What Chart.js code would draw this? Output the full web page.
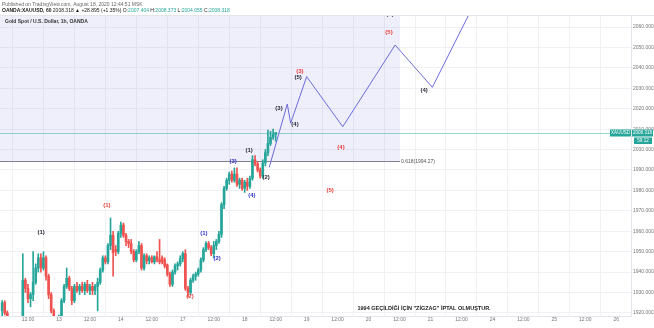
<!DOCTYPE html>
<html>
<head>
<meta charset="utf-8">
<script src="https://cdn.jsdelivr.net/npm/chart.js@4.4.1/dist/chart.umd.min.js"></script>
<style>
  html, body { margin: 0; padding: 0; background: #fff; }
  #wrap { width: 654px; height: 328px; }
</style>
</head>
<body>
<div id="wrap"><canvas id="chart" width="654" height="328"></canvas></div>
<script>
// ── candles: hour index counted from Aug 12 00:00 (weekend skipped) ──
const hours  = [2,3,4,5,6,7,8,9,10,11,12,13,14,15,16,17,18,19,20,21,22,23,24,25,26,27,28,29,30,31,32,33,34,35,36,37,38,39,40,41,42,43,44,45,46,47,48,49,50,51,52,53,54,55,56,57,58,59,60,61,62,63,64,65,66,67,68,69,70,71,72,73,74,75,76,77,78,79,80,81,82,83,84,85,86,87,88,89,90,91,92,93,94,95,96,97,98,99,100,101,102,103,104,105,106,107,108];
const opens  = [1921,1925,1920,1916,1913,1915,1911,1916,1917,1936,1932,1927,1929,1935,1942,1947,1942,1947,1938,1929,1921,1916,1915,1917,1926,1933,1937,1932,1926,1933,1931,1933,1931,1934,1931,1933,1931,1933,1935,1941,1947,1945,1953,1958,1951,1950,1959,1963,1958,1955,1954,1950,1946,1950,1953,1942,1948,1945.5,1947,1945,1947.5,1946,1947,1946,1943.5,1939,1934,1940,1943,1944,1946.5,1949,1932,1930,1936,1938,1939,1941,1946,1951,1954,1952,1949,1953,1955,1958.5,1973,1981,1985,1988,1985,1988,1983,1985,1981,1984,1982,1986,1995,1993,1990,1987,1993.5,1998.5,2003,2006,2007.404];
const highs  = [1926,1926,1921,1917,1916,1916,1917,1918,1949,1937,1934,1930,1950,1944,1949,1949,1950,1948,1939,1930,1922,1918,1919,1927,1934,1942,1938,1933,1934,1935,1934,1935,1935,1936,1934,1935,1934,1937,1942,1948,1948,1954,1966.5,1960,1953,1960,1964.5,1964,1959,1956,1956,1951,1951,1955,1954,1949,1949,1948,1948,1948,1950,1956,1948,1947,1944,1940,1941,1944,1945,1948,1950,1951,1933,1937,1939,1940,1942,1947,1952,1955,1955,1953,1955,1956,1960,1974,1982,1986,1989,1989.5,1991,1991,1986,1986,1985,1986,1987,1997,1997,1994,1991,1995,2000,2009.5,2009,2010,2008.373];
const lows   = [1918,1919,1914,1911,1910,1909,1910,1913,1915,1930,1925,1923,1926,1934,1940,1940,1941,1936,1927,1920,1914,1912,1913,1916,1925,1932,1931,1924,1925,1930,1929,1930,1929,1930,1929,1929,1929,1921,1934,1940,1944,1944,1951,1938,1948,1949,1957,1957,1953,1952,1949,1945,1945,1949,1941,1941,1944,1944,1944.5,1944,1945,1944,1944,1942,1938,1933,1933,1939,1941,1943,1945,1931,1928,1929,1935,1936,1938,1940,1945,1950,1951,1948,1947,1951,1954,1957,1971,1980,1983,1984,1984,1982,1981,1980,1979,1980,1981,1985,1992,1989,1986,1986,1992,1997,2002,2005,2004.055];
const closes = [1925,1920,1916,1913,1915,1911,1916,1917,1936,1932,1927,1929,1935,1942,1947,1942,1947,1938,1929,1921,1916,1915,1917,1926,1933,1937,1932,1926,1933,1931,1933,1931,1934,1931,1933,1931,1933,1935,1941,1947,1945,1953,1958,1949.5,1950,1959,1963,1958,1955,1954,1950,1946,1950,1953,1942,1948,1945.5,1947,1945,1947.5,1946,1945,1945,1943,1939,1934,1940,1943,1944,1946.5,1949,1932,1930,1936,1938,1939,1941,1946,1951,1954,1952,1949,1953,1955,1958.5,1973,1981,1985,1988,1985,1988,1983,1985,1981,1984,1982,1986,1995,1993,1990,1987,1993.5,1998.5,2003,2006,2007.4,2008.318];

// ── projected wave path ──
const waveHours  = [105.5, 112.5, 113.8, 120.0, 134.0, 154.3, 168.7, 186.0];
const wavePrices = [1991.3, 2022.3, 2012.9, 2035.7, 2011.2, 2051.2, 2030.5, 2074.0];

// ── wave count labels ──
const labelText   = ['(1)','(1)','(2)','(1)','(2)','(3)','(4)','(1)','(2)','(3)','(4)','(5)','(3)','(4)','(5)','(5)','(4)','(5)'];
const labelHours  = [17.1, 42.6, 74.8, 80.2, 85.3, 91.5, 98.8, 97.7, 104.3, 109.3, 115.5, 116.7, 117.4, 133.3, 129.1, 151.9, 165.5, 152.3];
const labelPrices = [1959.7, 1972.9, 1927.9, 1959.2, 1946.9, 1994.4, 1977.8, 1999.8, 1986.6, 2020.4, 2012.5, 2035.5, 2038.5, 2001.3, 1980.2, 2057.6, 2029.2, 2066.4];
const labelKind   = ['k','r','r','b','b','b','b','k','k','k','k','k','r','r','r','r','k','k'];

// ── axes ──
const xTickHours  = [12,24,36,48,60,72,84,96,108,120,132,144,156,168,180,192,204,216,228,240];
const xTickLabels = ['12:00','13','12:00','14','12:00','17','12:00','18','12:00','19','12:00','20','12:00','21','12:00','24','12:00','25','12:00','26'];
const yTicks      = [1920,1930,1940,1950,1960,1970,1980,1990,2000,2010,2020,2030,2040,2050,2060];

const lastPrice  = 2008.318;
const fibLevel   = 1994.27;
const boxEndHour = 156.2;
const noteText   = '1994 GEÇİLDİĞİ İÇİN "ZİGZAG" İPTAL OLMUŞTUR.';
const noteHour   = 165.5, notePrice = 1922.0;

const UP = '#26a69a', DOWN = '#ef5350';
const LABEL_COLORS = { k: '#2a2e39', r: '#e8403a', b: '#3434c4' };

const candleColors = closes.map((c, i) => c >= opens[i] ? UP : DOWN);

const boxPlugin = {
  id: 'box',
  beforeDatasetsDraw(chart) {
    const { ctx, chartArea: a, scales: { x, y } } = chart;
    const xr = x.getPixelForValue(boxEndHour);
    const yb = Math.round(y.getPixelForValue(fibLevel)) + 0.5;
    ctx.save();
    ctx.fillStyle = 'rgba(120,116,218,0.12)';
    ctx.fillRect(a.left, a.top, xr - a.left, yb - a.top);
    ctx.strokeStyle = '#80838e';
    ctx.lineWidth = 1;
    ctx.beginPath(); ctx.moveTo(a.left, yb); ctx.lineTo(xr, yb); ctx.stroke();
    ctx.font = '5px Arial';
    ctx.fillStyle = '#555';
    ctx.textBaseline = 'middle';
    ctx.fillText('0.618(' + fibLevel.toFixed(2) + ')', xr + 1, yb);
    const yp = Math.round(y.getPixelForValue(lastPrice)) + 0.5;
    ctx.strokeStyle = 'rgba(38,166,154,0.45)';
    ctx.beginPath(); ctx.moveTo(a.left, yp); ctx.lineTo(a.right, yp); ctx.stroke();
    ctx.restore();
  }
};

const labelPlugin = {
  id: 'labels',
  afterDatasetsDraw(chart) {
    const { ctx, chartArea: a, scales: { x, y } } = chart;
    ctx.save();
    ctx.beginPath(); ctx.rect(a.left, a.top, a.right - a.left, a.bottom - a.top); ctx.clip();
    ctx.textAlign = 'center';
    ctx.textBaseline = 'middle';
    ctx.font = 'bold 6px Arial';
    labelText.forEach((t, i) => {
      ctx.fillStyle = LABEL_COLORS[labelKind[i]];
      ctx.fillText(t, x.getPixelForValue(labelHours[i]), y.getPixelForValue(labelPrices[i]));
    });
    ctx.font = 'bold 5.5px Arial';
    ctx.fillStyle = '#222';
    ctx.fillText(noteText, x.getPixelForValue(noteHour), y.getPixelForValue(notePrice));
    ctx.restore();
  }
};

const headerPlugin = {
  id: 'header',
  afterDraw(chart) {
    const { ctx, chartArea: a, scales: { y } } = chart;
    ctx.save();
    ctx.textBaseline = 'middle';
    ctx.font = '5px Arial';
    ctx.fillStyle = '#666';
    ctx.fillText('Published on TradingView.com, August 18, 2020 12:44:51 MSK', 2, 4.5);

    let px = 2;
    const seg = (txt, color, bold) => {
      ctx.font = (bold ? 'bold ' : '') + '5px Arial';
      ctx.fillStyle = color;
      ctx.fillText(txt, px, 10.5);
      px += ctx.measureText(txt).width;
    };
    seg('OANDA:XAUUSD, 60 ', '#222', true);
    seg('2008.318 ▲ +28.895 (+1.35%) ', '#222', false);
    seg('O:', '#222', false); seg('2007.404 ', UP, false);
    seg('H:', '#222', false); seg('2008.373 ', UP, false);
    seg('L:', '#222', false); seg('2004.055 ', UP, false);
    seg('C:', '#222', false); seg('2008.318', UP, false);

    ctx.font = 'bold 5px Arial';
    ctx.fillStyle = '#333';
    ctx.fillText('Gold Spot / U.S. Dollar, 1h, OANDA', 5, 22);

    // frame top
    ctx.strokeStyle = '#e4e4ea';
    ctx.lineWidth = 1;
    ctx.beginPath(); ctx.moveTo(0, a.top + 0.5); ctx.lineTo(654, a.top + 0.5); ctx.stroke();

    // last price tags
    const yp = Math.round(y.getPixelForValue(lastPrice));
    ctx.fillStyle = UP;
    ctx.fillRect(a.right - 21, yp - 3.5, 21, 7);
    ctx.fillRect(a.right + 1, yp - 3.5, 21, 7);
    ctx.fillRect(a.right + 3, yp + 4.5, 18, 6.5);
    ctx.fillStyle = '#fff';
    ctx.font = '4.5px Arial';
    ctx.textAlign = 'center';
    ctx.fillText('XAUUSD', a.right - 10.5, yp);
    ctx.fillText(lastPrice.toFixed(3), a.right + 11.5, yp);
    ctx.fillText('59:12', a.right + 12, yp + 7.8);
    ctx.restore();
  }
};

new Chart(document.getElementById('chart'), {
  type: 'bar',
  data: {
    datasets: [
      {
        type: 'line',
        data: waveHours.map((h, i) => ({ x: h, y: wavePrices[i] })),
        borderColor: '#6b6bd8',
        borderWidth: 1,
        pointRadius: 0,
        tension: 0
      },
      {
        data: hours.map((h, i) => ({ x: h, y: [opens[i], closes[i]] })),
        backgroundColor: candleColors,
        barThickness: 2,
        grouped: false
      },
      {
        data: hours.map((h, i) => ({ x: h, y: [lows[i], highs[i]] })),
        backgroundColor: candleColors,
        barThickness: 1,
        grouped: false
      }
    ]
  },
  options: {
    responsive: false,
    animation: false,
    layout: { padding: { top: 15, left: 0, right: 0, bottom: 0 } },
    plugins: { legend: { display: false }, tooltip: { enabled: false } },
    scales: {
      x: {
        type: 'linear',
        offset: false,
        min: 1.16,
        max: 245.7,
        afterBuildTicks: s => { s.ticks = xTickHours.map(v => ({ value: v })); },
        afterFit: s => { s.height = 12; },
        ticks: {
          autoSkip: false,
          maxRotation: 0,
          padding: 1,
          color: '#777',
          font: { family: 'Arial', size: 5 },
          callback: v => xTickLabels[xTickHours.indexOf(v)]
        },
        grid: { color: '#f1f1f5', drawTicks: false },
        border: { color: '#e4e4ea' }
      },
      y: {
        position: 'right',
        min: 1918.5,
        max: 2065.9,
        afterBuildTicks: s => { s.ticks = yTicks.map(v => ({ value: v })); },
        afterFit: s => { s.width = 23; },
        ticks: {
          padding: 2,
          color: '#777',
          font: { family: 'Arial', size: 5 },
          callback: v => v.toFixed(3)
        },
        grid: { color: '#f1f1f5', drawTicks: false },
        border: { color: '#e4e4ea' }
      }
    }
  },
  plugins: [boxPlugin, labelPlugin, headerPlugin]
});
</script>
</body>
</html>
